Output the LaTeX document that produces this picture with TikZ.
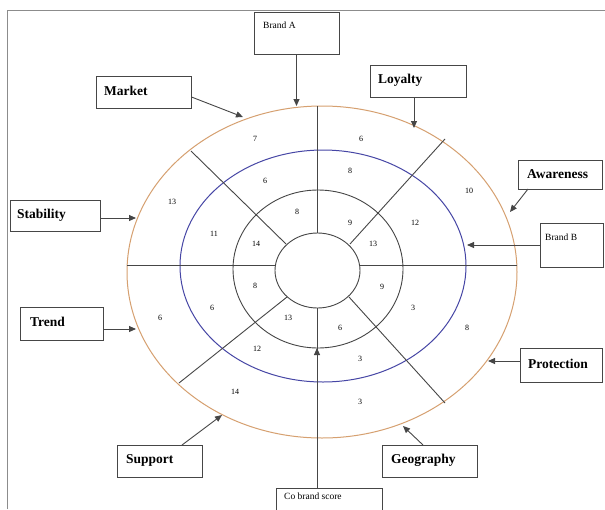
\documentclass[tikz,border=0pt]{standalone}
\usepackage{fontspec}
\setmainfont{Liberation Serif}
\usetikzlibrary{arrows.meta,calc}
\definecolor{ringorange}{RGB}{214,160,112}
\definecolor{ringblue}{RGB}{70,70,165}
\definecolor{ringgray}{RGB}{70,70,70}
\begin{document}
\begin{tikzpicture}[x=1pt,y=-1pt,
  box/.style={draw=ringgray,line width=1pt,inner sep=0pt},
  lbl/.style={anchor=west,font=\fontsize{13.5}{15}\selectfont\bfseries,inner sep=0pt},
  small/.style={anchor=west,font=\fontsize{9.5}{11}\selectfont,inner sep=0pt},
  num/.style={font=\fontsize{8}{9}\selectfont,inner sep=0pt},
  arr/.style={draw=ringgray,line width=0.9pt,-{Triangle[length=7pt,width=6pt]}},
  ring/.style={draw=ringgray,line width=0.9pt}]
\useasboundingbox (0,0) rectangle (605,509);
\fill[white] (0,0) rectangle (605,509);
\draw[black!45,line width=1pt] (7,509) -- (7,10) -- (605,10);

% rings
\draw[draw=ringorange,line width=1pt] (322,272) ellipse [x radius=195,y radius=166];
\draw[draw=ringblue,line width=1pt] (323,266) ellipse [x radius=143,y radius=116];
\draw[ring] (318,269) ellipse [x radius=85,y radius=79];
\draw[ring] (317.5,270.5) ellipse [x radius=42.5,y radius=37.5];

% radial lines
\draw[ring] (127,265) -- (275.5,265);
\draw[ring] (359.5,265) -- (517,265);
\draw[ring] (317,106) -- (317,233);
\draw[ring] (286,244) -- (191,151);
\draw[ring] (350,244) -- (445,139);
\draw[ring] (287,297) -- (179,383);
\draw[ring] (349,297) -- (445,403);

% numbers
\node[num] (n1) at (255,139) {7};
\node[num] (n2) at (265,181) {6};
\node[num] (n3) at (297,212) {8};
\node[num] (n4) at (172,202) {13};
\node[num] (n5) at (214,234) {11};
\node[num] (n6) at (256,244) {14};
\node[num] (n7) at (361,139) {6};
\node[num] (n8) at (350,171) {8};
\node[num] (n9) at (469,191) {10};
\node[num] (n10) at (350,223) {9};
\node[num] (n11) at (415,223) {12};
\node[num] (n12) at (373,244) {13};
\node[num] (n13) at (160,318) {6};
\node[num] (n14) at (212,308) {6};
\node[num] (n15) at (255,286) {8};
\node[num] (n16) at (288,318) {13};
\node[num] (n17) at (257,349) {12};
\node[num] (n18) at (235,392) {14};
\node[num] (n19) at (382,287) {9};
\node[num] (n20) at (413,308) {3};
\node[num] (n21) at (467,328) {8};
\node[num] (n22) at (340,328) {6};
\node[num] (n23) at (360,359) {3};
\node[num] (n24) at (360,402) {3};

% label boxes
\node[box,minimum width=85,minimum height=42] (brandA) at (296.5,33) {};
\node[small] (brandAt) at (263,25) {Brand A};
\node[box,minimum width=95,minimum height=32] (market) at (143.5,92) {};
\node[lbl] (markett) at (104,91) {Market};
\node[box,minimum width=96,minimum height=32] (loyalty) at (418,81) {};
\node[lbl] (loyaltyt) at (378,80) {Loyalty};
\node[box,minimum width=84,minimum height=29] (aware) at (560,174.5) {};
\node[lbl] (awaret) at (527,174) {Awareness};
\node[box,minimum width=63,minimum height=44] (brandB) at (571.5,245) {};
\node[small] (brandBt) at (545,237) {Brand B};
\node[box,minimum width=90,minimum height=31] (stab) at (55,215.5) {};
\node[lbl] (stabt) at (17,215) {Stability};
\node[box,minimum width=83,minimum height=33] (trend) at (61.5,323.5) {};
\node[lbl] (trendt) at (30,322) {Trend};
\node[box,minimum width=82,minimum height=34] (prot) at (561,365) {};
\node[lbl] (prott) at (528,364) {Protection};
\node[box,minimum width=85,minimum height=32] (support) at (159.5,461) {};
\node[lbl] (supportt) at (126,460) {Support};
\node[box,minimum width=95,minimum height=32] (geo) at (429.5,461) {};
\node[lbl] (geot) at (391,460) {Geography};
\node[box,minimum width=106,minimum height=26] (cobrand) at (329,501) {};
\node[small] (cobrandt) at (284,496) {Co brand score};

% arrow tips
\coordinate (tA) at (296.5,106);
\coordinate (tMarket) at (243,117);
\coordinate (tLoyalty) at (414,128);
\coordinate (tAware) at (510,212);
\coordinate (tB) at (467,245);
\coordinate (tStab) at (136,218);
\coordinate (tTrend) at (136,329);
\coordinate (tProt) at (488,361);
\coordinate (tSupport) at (222,415);
\coordinate (tGeo) at (403,426);
\coordinate (cbBase) at (317,488);
\coordinate (innerBot) at (317,308);
\coordinate (thirdBot) at (317,348);

\draw[arr] (brandA.south) -- (tA);
\draw[arr] (market.east |- 0,97) -- (tMarket);
\draw[arr] (loyalty.south -| tLoyalty) -- (tLoyalty);
\draw[arr] (528,189) -- (tAware);
\draw[arr] (brandB.west) -- (tB);
\draw[arr] (stab.east |- tStab) -- (tStab);
\draw[arr] (trend.east |- tTrend) -- (tTrend);
\draw[arr] (prot.west |- tProt) -- (tProt);
\draw[arr] (182,445) -- (tSupport);
\draw[arr] (423,445) -- (tGeo);
\draw[ring] (cbBase) -- (innerBot);
\draw[arr] (cbBase) -- (thirdBot);
\end{tikzpicture}
\end{document}
